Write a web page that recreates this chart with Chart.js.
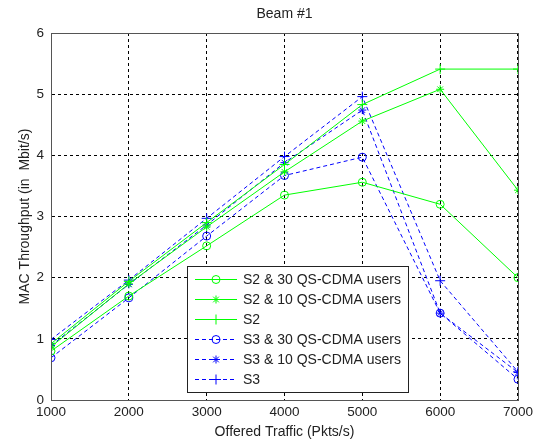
<!DOCTYPE html>
<html>
<head>
<meta charset="utf-8">
<script src="https://cdn.jsdelivr.net/npm/chart.js@4.4.1/dist/chart.umd.min.js"></script>
<style>
  html, body { margin: 0; padding: 0; background: #fff; }
  #wrap { width: 537px; height: 441px; }
</style>
</head>
<body>
<div id="wrap"><canvas id="beamChart"></canvas></div>
<script>
// offered traffic (Pkts/s)
const traffic = [1000, 2000, 3000, 4000, 5000, 6000, 7000];
// MAC throughput (Mbit/s)
const s2_30users = [0.80, 1.70, 2.52, 3.35, 3.56, 3.20, 2.00];
const s2_10users = [0.87, 1.90, 2.83, 3.73, 4.56, 5.08, 3.43];
const s2_only    = [0.92, 1.94, 2.90, 3.85, 4.83, 5.41, 5.41];
const s3_30users = [0.69, 1.67, 2.68, 3.67, 3.97, 1.42, 0.34];
const s3_10users = [0.89, 1.89, 2.86, 3.88, 4.74, 1.42, 0.45];
const s3_only    = [0.99, 1.96, 2.97, 3.98, 4.96, 1.95, 0.46];
const seriesNames = ['S2 & 30 QS-CDMA users', 'S2 & 10 QS-CDMA users', 'S2',
                     'S3 & 30 QS-CDMA users', 'S3 & 10 QS-CDMA users', 'S3'];
const xTicks = [1000, 2000, 3000, 4000, 5000, 6000, 7000];
const yTicks = [0, 1, 2, 3, 4, 5, 6];

let green = 'rgb(0, 255, 0)';
let blue = 'rgb(0, 0, 255)';
const FONT = '"Liberation Sans", Arial, sans-serif';

function toPoints(vals) {
    return vals.map((v, i) => ({ x: traffic[i], y: v }));
}

function makeSet(label, vals, color, style, dashed) {
    return {
        label: label,
        data: toPoints(vals),
        borderColor: color,
        backgroundColor: 'rgba(0,0,0,0)',
        borderWidth: 1,
        borderDash: dashed ? [4, 3] : [],
        pointStyle: style,
        pointRadius: style === 'cross' ? 5 : 4,
        pointBorderColor: color,
        pointBackgroundColor: 'rgba(0,0,0,0)',
        pointBorderWidth: 1,
        tension: 0
    };
}

// frame, title and the in-plot legend (MATLAB style)
const matlabDecor = {
    id: 'matlabDecor',
    afterDraw(chart) {
        const ctx = chart.ctx;
        const a = chart.chartArea;
        ctx.save();
        ctx.strokeStyle = '#555';
        ctx.lineWidth = 1;
        ctx.setLineDash([]);
        ctx.strokeRect(a.left + 0.5, a.top + 0.5, a.right - a.left, a.bottom - a.top);

        ctx.fillStyle = '#222';
        ctx.font = '14px ' + FONT;
        ctx.textAlign = 'center';
        ctx.textBaseline = 'middle';
        ctx.fillText('Beam #1', (a.left + a.right) / 2, 14);

        // legend box
        const bx = a.left + 136, by = a.top + 233, bw = 221, bh = 126;
        ctx.fillStyle = '#fff';
        ctx.fillRect(bx, by, bw, bh);
        ctx.strokeStyle = '#222';
        ctx.strokeRect(bx + 0.5, by + 0.5, bw, bh);
        ctx.font = '14px ' + FONT;
        ctx.textAlign = 'left';
        chart.data.datasets.forEach((ds, i) => {
            const y = by + 13 + i * 20;
            ctx.strokeStyle = ds.borderColor;
            ctx.setLineDash(ds.borderDash);
            ctx.beginPath();
            ctx.moveTo(bx + 8, y + 0.5);
            ctx.lineTo(bx + 50, y + 0.5);
            ctx.stroke();
            ctx.setLineDash([]);
            ctx.fillStyle = 'rgba(0,0,0,0)';
            Chart.helpers.drawPoint(ctx, {
                pointStyle: ds.pointStyle, radius: ds.pointRadius,
                rotation: 0, borderWidth: 1
            }, bx + 29, y + 0.5);
            ctx.fillStyle = '#222';
            ctx.fillText(ds.label, bx + 56, y + 1);
        });
        ctx.restore();
    }
};

document.addEventListener('DOMContentLoaded', function () {
    const ctx = document.getElementById('beamChart').getContext('2d');
    new Chart(ctx, {
        type: 'line',
        data: {
            datasets: [
                makeSet(seriesNames[0], s2_30users, green, 'circle', false),
                makeSet(seriesNames[1], s2_10users, green, 'star', false),
                makeSet(seriesNames[2], s2_only, green, 'cross', false),
                makeSet(seriesNames[3], s3_30users, blue, 'circle', true),
                makeSet(seriesNames[4], s3_10users, blue, 'star', true),
                makeSet(seriesNames[5], s3_only, blue, 'cross', true)
            ]
        },
        options: {
            responsive: true,
            maintainAspectRatio: false,
            animation: false,
            layout: { padding: { top: 33, right: 19, left: 0, bottom: 0 } },
            plugins: {
                legend: { display: false },
                title: { display: false },
                tooltip: { enabled: false }
            },
            scales: {
                x: {
                    type: 'linear',
                    min: 1000,
                    max: 7000,
                    afterBuildTicks: (s) => { s.ticks = xTicks.map(v => ({ value: v })); },
                    afterFit: (s) => { s.height = 41; },
                    grid: { color: '#000', lineWidth: 1, drawTicks: false },
                    border: { display: true, color: '#555', dash: [3, 3] },
                    ticks: {
                        color: '#222', font: { family: FONT, size: 13.5 }, padding: 4, maxRotation: 0,
                        callback: (v) => String(v)
                    },
                    title: {
                        display: true, text: 'Offered Traffic (Pkts/s)', color: '#222',
                        font: { family: FONT, size: 14 }, padding: { top: 4, bottom: 0 }
                    }
                },
                y: {
                    min: 0,
                    max: 6,
                    afterBuildTicks: (s) => { s.ticks = yTicks.map(v => ({ value: v })); },
                    afterFit: (s) => { s.width = 51; },
                    grid: { color: '#000', lineWidth: 1, drawTicks: false },
                    border: { display: true, color: '#555', dash: [3, 3] },
                    ticks: { color: '#222', font: { family: FONT, size: 13.5 }, padding: 7 },
                    title: {
                        display: true, text: 'MAC Throughput (in  Mbit/s)', color: '#222',
                        font: { family: FONT, size: 14 }, padding: { top: 17, bottom: 0 }
                    }
                }
            }
        },
        plugins: [matlabDecor]
    });
});
</script>
</body>
</html>
